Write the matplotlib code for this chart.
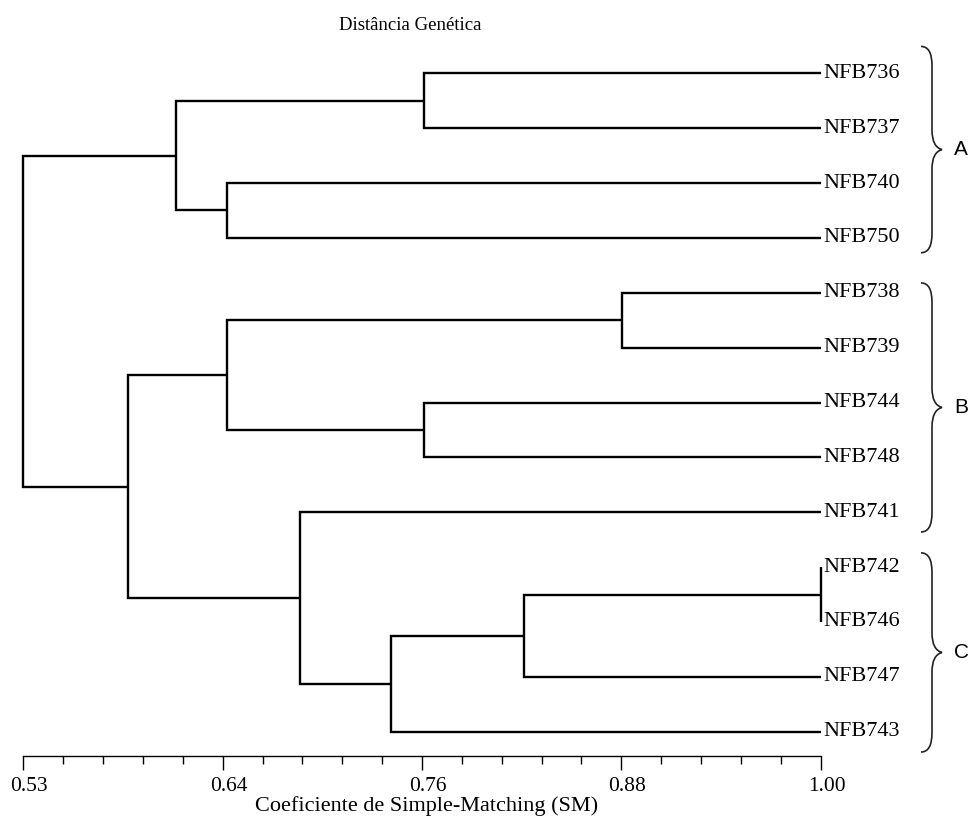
import numpy as np
import matplotlib
matplotlib.use("Agg")
import matplotlib.pyplot as plt
import matplotlib.transforms as mtransforms
from matplotlib.path import Path
from matplotlib.patches import PathPatch
from matplotlib.ticker import FixedLocator, AutoMinorLocator

plt.rcParams['font.family'] = ['Liberation Serif', 'DejaVu Serif']

# leaves, top to bottom
leaves = ['NFB736', 'NFB737', 'NFB740', 'NFB750', 'NFB738', 'NFB739',
          'NFB744', 'NFB748', 'NFB741', 'NFB742', 'NFB746', 'NFB747', 'NFB743']

# merges: (child a, child b, similarity) ; children are leaf names or merge ids
merges = {
    'n1': ('NFB736', 'NFB737', 0.766),
    'n2': ('NFB740', 'NFB750', 0.650),
    'n3': ('n1', 'n2', 0.620),
    'n4': ('NFB738', 'NFB739', 0.883),
    'n5': ('NFB744', 'NFB748', 0.766),
    'n6': ('n4', 'n5', 0.650),
    'n7': ('NFB742', 'NFB746', 1.000),
    'n8': ('n7', 'NFB747', 0.825),
    'n9': ('n8', 'NFB743', 0.747),
    'n10': ('NFB741', 'n9', 0.693),
    'n11': ('n6', 'n10', 0.592),
    'n12': ('n3', 'n11', 0.530),
}
root = 'n12'

tick_vals = [0.53, 0.6475, 0.765, 0.8825, 1.00]
tick_labels = ['0.53', '0.64', '0.76', '0.88', '1.00']

groups = ['A', 'B', 'C']
group_spans = [(-0.49, 3.27), (3.82, 8.36), (8.74, 12.37)]

W, H = 968, 824
fig = plt.figure(figsize=(W / 100, H / 100), dpi=100)
x0, x1 = 23.3, 820.7
ytop, ybot = 40, 756
ax = fig.add_axes([x0 / W, (H - ybot) / H, (x1 - x0) / W, (ybot - ytop) / H])

y0, dy = 73.3, 54.87
ax.set_xlim(0.53, 1.00)
ax.set_ylim((ybot - y0) / dy, (ytop - y0) / dy)

lw = 1.7
pos = {name: (1.0, i) for i, name in enumerate(leaves)}


def draw(node):
    if node in pos and node not in merges:
        return pos[node]
    a, b, h = merges[node]
    xa, ya = draw(a)
    xb, yb = draw(b)
    ax.plot([xa, h, h, xb], [ya, ya, yb, yb], color='black', lw=lw,
            solid_joinstyle='miter', solid_capstyle='butt', clip_on=False)
    pos[node] = (h, (ya + yb) / 2)
    return pos[node]


draw(root)

px = 0.47 / (x1 - x0)  # data units per pixel
for i, name in enumerate(leaves):
    ax.text(1.0 + 3 * px, i, name, fontsize=16, ha='left', va='center',
            clip_on=False)

# axis
for s in ['top', 'right', 'left']:
    ax.spines[s].set_visible(False)
ax.spines['bottom'].set_linewidth(1.0)
ax.set_yticks([])
ax.xaxis.set_major_locator(FixedLocator(tick_vals))
ax.set_xticklabels(tick_labels, fontsize=15.5)
ax.xaxis.set_minor_locator(AutoMinorLocator(5))
ax.tick_params(axis='x', which='major', direction='out', length=10, width=1.0, pad=5)
ax.tick_params(axis='x', which='minor', direction='out', length=5.5, width=1.0)
shift = mtransforms.ScaledTranslation(6 / 100, 0, fig.dpi_scale_trans)
for lab in ax.get_xticklabels():
    lab.set_transform(lab.get_transform() + shift)

fig.text(427 / W, 1 - 806 / H, 'Coeficiente de Simple-Matching (SM)',
         fontsize=16, ha='center', va='center')
fig.text(410 / W, 1 - 26 / H, 'Distância Genética', fontsize=13.5,
         ha='center', va='center')

# braces
bx = 0.53 + (932 - x0) * px
hook = 11 * px
tip = 10 * px
for g, (ya, yb) in zip(groups, group_spans):
    ym = (ya + yb) / 2
    c = 0.35
    verts = [(bx - hook, ya), (bx, ya), (bx, ya + c), (bx, ya + c + 0.1),
             (bx, ym - c), (bx, ym - 0.05), (bx + tip, ym),
             (bx, ym + 0.05), (bx, ym + c), (bx, ym + c),
             (bx, yb - c - 0.1), (bx, yb - c), (bx, yb), (bx - hook, yb)]
    codes = [Path.MOVETO, Path.CURVE3, Path.CURVE3, Path.LINETO,
             Path.LINETO, Path.CURVE3, Path.CURVE3,
             Path.CURVE3, Path.CURVE3, Path.LINETO,
             Path.LINETO, Path.LINETO, Path.CURVE3, Path.CURVE3]
    ax.add_patch(PathPatch(Path(verts, codes), fill=False, lw=1.2,
                           edgecolor='#222222', clip_on=False))
    ax.text(bx + tip + 12 * px, ym, g, fontsize=15,
            family=['Liberation Sans', 'DejaVu Sans'], ha='left', va='center',
            clip_on=False)

fig.savefig('out.png', dpi=100)
